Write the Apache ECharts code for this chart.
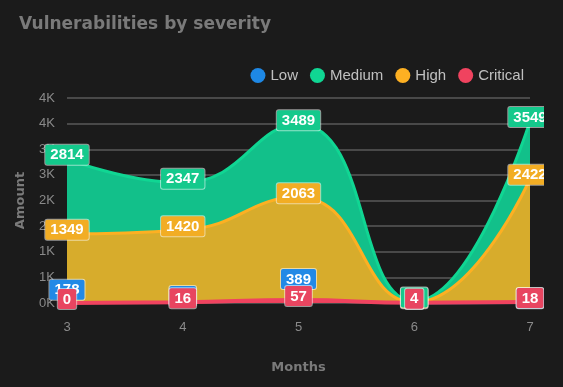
<!DOCTYPE html>
<html><head><meta charset="utf-8">
<script src="https://cdn.jsdelivr.net/npm/echarts@6/dist/echarts.min.js"></script>
<style>
html,body{margin:0;padding:0;background:#1b1b1b;}
#wrap{width:563px;height:387px;overflow:hidden;position:relative;background:#1b1b1b;}
#main{width:544px;height:387px;position:absolute;left:0;top:0;}
</style></head><body>
<div id="wrap"><div id="main"></div></div>
<script>
var months = ['3','4','5','6','7'];
var lowValues = [178, 60, 389, 0, 12];
var mediumValues = [2814, 2347, 3489, 30, 3549];
var highValues = [1349, 1420, 2063, 12, 2422];
var criticalValues = [0, 16, 57, 4, 18];
var seriesNames = ['Low', 'Medium', 'High', 'Critical'];
var lineColors = ['#1e88e5', '#10d693', '#fdb022', '#f0435f'];
var areaColors = ['#1e7fd6', '#12c08a', '#d7ac2c', '#e8435a'];
var labelColors = ['#2289e6', '#14c98c', '#f2ad24', '#e84560'];
var labelOrder = [0, 2, 1, 3];

var chart = echarts.init(document.getElementById('main'), null, {renderer:'canvas'});
var data = [lowValues, mediumValues, highValues, criticalValues];
var series = [];
seriesNames.forEach(function(n, i){
  series.push({
    name: n, type: 'line', smooth: true, showSymbol: false,
    data: data[i], z: 2 + i,
    lineStyle: {color: lineColors[i], width: i === 3 ? 4 : 3},
    itemStyle: {color: lineColors[i]},
    areaStyle: {color: areaColors[i], opacity: 1},
    emphasis: {disabled: true}, silent: true
  });
});
seriesNames.forEach(function(n, i){
  series.push({
    name: n, type: 'line', smooth: true, showSymbol: true, symbol: 'circle', symbolSize: 0.1,
    data: data[i], z: 20 + labelOrder[i],
    lineStyle: {opacity: 0, width: 0},
    itemStyle: {color: lineColors[i]},
    label: {
      show: true, position: 'top', offset: [0, 11],
      color: '#fff', fontWeight: 'bold', fontSize: 15, fontFamily: 'Liberation Sans',
      backgroundColor: labelColors[i], borderColor: 'rgba(255,255,255,0.55)', borderWidth: 1,
      borderRadius: 2, padding: [3, 5, 2, 5]
    },
    emphasis: {disabled: true}, silent: true
  });
});
chart.setOption({
  backgroundColor: '#1b1b1b',
  animation: false,
  title: {text: 'Vulnerabilities by severity', left: 14, top: 11,
    textStyle: {color: '#7a7a7a', fontSize: 17, fontWeight: 'bold', fontFamily: 'DejaVu Sans'}},
  legend: {data: seriesNames, right: 15, top: 63, icon: 'circle', itemWidth: 15, itemHeight: 15, itemGap: 12,
    textStyle: {color: '#c0c0c0', fontSize: 15, fontFamily: 'Liberation Sans'}},
  grid: {left: 67, right: 14, top: 98, bottom: 84, containLabel: false},
  xAxis: {type: 'category', data: months, boundaryGap: false,
    name: 'Months', nameLocation: 'middle', nameGap: 58,
    nameTextStyle: {color: '#7a7a7a', fontSize: 13, fontWeight: 'bold', fontFamily: 'DejaVu Sans'},
    axisLine: {show: false}, axisTick: {show: false},
    axisLabel: {color: '#8a8a8a', fontSize: 13, margin: 18, fontFamily: 'Liberation Sans'}},
  yAxis: {type: 'value', min: 0, max: 4000, interval: 500,
    name: 'Amount', nameLocation: 'middle', nameGap: 40,
    nameTextStyle: {color: '#7a7a7a', fontSize: 13, fontWeight: 'bold', fontFamily: 'DejaVu Sans'},
    axisLine: {show: false}, axisTick: {show: false},
    splitLine: {lineStyle: {color: '#5a5a5a', width: 1.5}},
    axisLabel: {color: '#8a8a8a', fontSize: 13, margin: 12, fontFamily: 'Liberation Sans',
      formatter: function(v){ return Math.round(v/1000) + 'K'; }}},
  series: series
});
</script></body></html>
